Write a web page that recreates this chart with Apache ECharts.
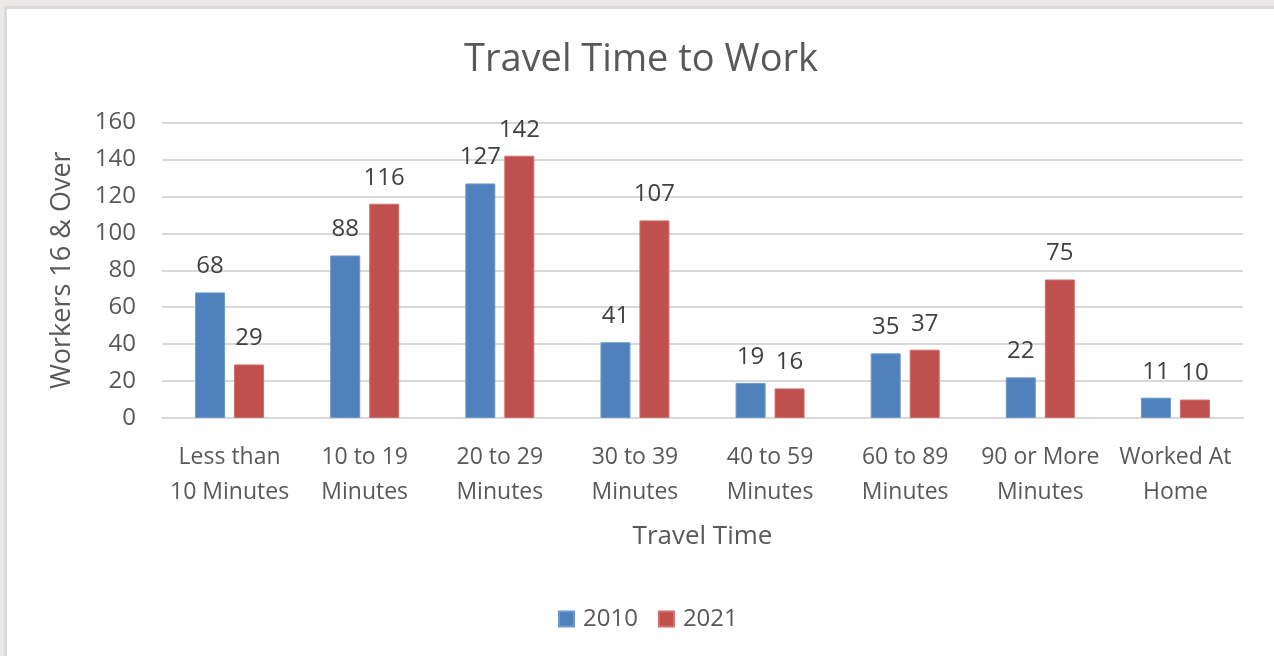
<!DOCTYPE html>
<html>
<head>
<meta charset="utf-8">
<script src="https://cdn.jsdelivr.net/npm/echarts@6/dist/echarts.min.js"></script>
<style>
  html, body { margin: 0; padding: 0; background: #ebe8e7; width: 1274px; height: 656px; overflow: hidden; }
  #frame { position: absolute; left: 4px; top: 6px; width: 1300px; height: 700px; background: #fff; border: 3px solid #dadada; }
  #chart { position: absolute; left: 0; top: 0; width: 1274px; height: 656px; }
</style>
</head>
<body>
<div id="frame"></div>
<div id="chart"></div>
<script>
// categories and values
var categories = ['Less than\n10 Minutes', '10 to 19\nMinutes', '20 to 29\nMinutes', '30 to 39\nMinutes',
  '40 to 59\nMinutes', '60 to 89\nMinutes', '90 or More\nMinutes', 'Worked At\nHome'];
var values2010 = [68, 88, 127, 41, 19, 35, 22, 11];
var values2021 = [29, 116, 142, 107, 16, 37, 75, 10];
var yTicks = [0, 160, 20]; // min, max, interval

var font = 'Open Sans';
var myChart = echarts.init(document.getElementById('chart'));

var labelStyle = {
  show: true,
  position: 'top',
  distance: 14,
  color: '#404040',
  fontFamily: font,
  fontSize: 24
};

var option = {
  backgroundColor: 'transparent',
  animation: false,
  title: {
    text: 'Travel Time to Work',
    left: 459,
    top: 36,
    textStyle: { color: '#595959', fontFamily: font, fontSize: 38, fontWeight: 'normal' }
  },
  legend: {
    data: ['2010', '2021'],
    top: 602,
    left: 553,
    itemWidth: 15,
    itemHeight: 15,
    itemGap: 20,
    icon: 'rect',
    textStyle: { color: '#595959', fontFamily: font, fontSize: 24, padding: [0, 0, 0, 4] }
  },
  grid: { left: 162, right: 31, top: 122.5, bottom: 238 },
  xAxis: {
    type: 'category',
    data: categories,
    name: 'Travel Time',
    nameLocation: 'middle',
    nameGap: 106,
    nameTextStyle: { color: '#595959', fontFamily: font, fontSize: 26 },
    axisLine: { lineStyle: { color: '#d9d9d9', width: 2 } },
    axisTick: { show: false },
    axisLabel: { color: '#595959', fontFamily: font, fontSize: 23, lineHeight: 35, margin: 22, interval: 0 }
  },
  yAxis: {
    type: 'value',
    min: yTicks[0],
    max: yTicks[1],
    interval: yTicks[2],
    name: 'Workers 16 & Over',
    nameLocation: 'middle',
    nameGap: 86,
    nameTextStyle: { color: '#595959', fontFamily: font, fontSize: 27 },
    axisLine: { show: false },
    axisTick: { show: false },
    axisLabel: { color: '#595959', fontFamily: font, fontSize: 24, margin: 26 },
    splitLine: { lineStyle: { color: '#d9d9d9', width: 2 } }
  },
  series: [
    {
      name: '2010',
      type: 'bar',
      data: values2010,
      barWidth: 30,
      barGap: '30%',
      itemStyle: { color: '#4f81bd', borderColor: '#6f97cc', borderWidth: 1 },
      label: labelStyle
    },
    {
      name: '2021',
      type: 'bar',
      data: values2021,
      barWidth: 30,
      barGap: '30%',
      itemStyle: { color: '#c0504d', borderColor: '#d06e6b', borderWidth: 1 },
      label: labelStyle
    }
  ]
};

myChart.setOption(option);
</script>
</body>
</html>
